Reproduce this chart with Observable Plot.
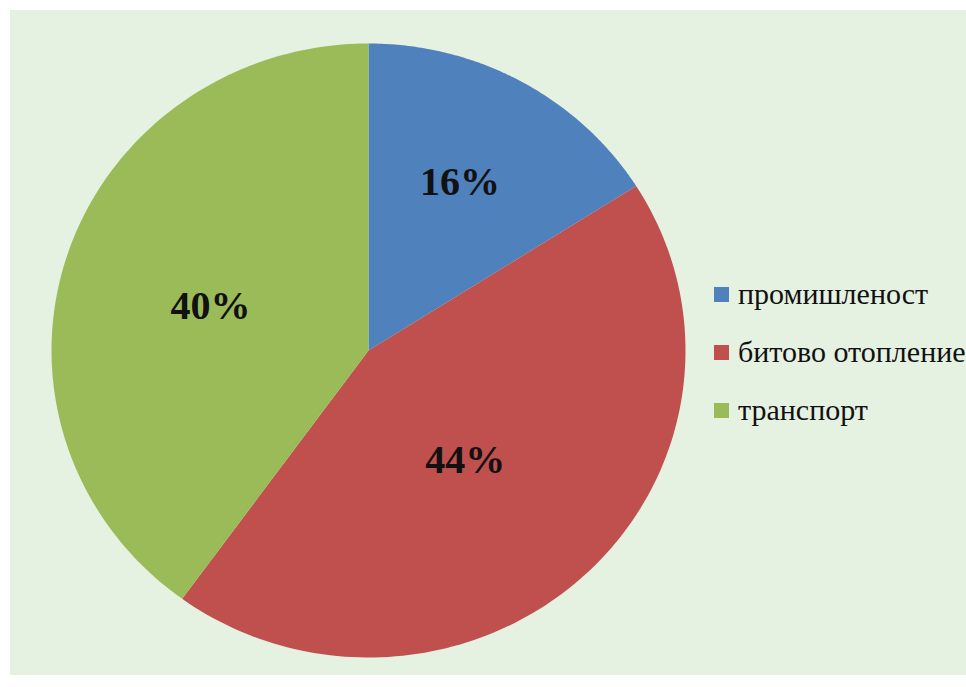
<!DOCTYPE html>
<html>
<head>
<meta charset="utf-8">
<script src="https://cdn.jsdelivr.net/npm/d3@7"></script>
<script src="https://cdn.jsdelivr.net/npm/@observablehq/plot@0.6"></script>
<style>
  html, body { margin: 0; padding: 0; background: #ffffff; }
  #wrap { position: relative; width: 966px; height: 687px; overflow: hidden; }
  #bg { position: absolute; left: 10px; top: 10px; width: 956px; height: 665px; background: #e5f2e2; }
  #chart { position: absolute; left: 0; top: 0; }
  #legend { position: absolute; left: 714px; top: 265px; font-family: "Liberation Serif", "Times New Roman", Times, "DejaVu Serif", serif; font-size: 30px; color: #111; }
  .row { display: flex; align-items: center; height: 58px; white-space: nowrap; }
  .sw { width: 15px; height: 15px; margin-right: 9px; }
</style>
</head>
<body>
<div id="wrap">
  <div id="bg"></div>
  <div id="chart"></div>
  <div id="legend"></div>
</div>
<script>
const categories = ["промишленост", "битово отопление", "транспорт"];
const values = [16, 44, 40];
const colors = ["#4f81bd", "#c0504d", "#9bbb59"];

const rows = categories.map((c, i) => ({cat: c, value: values[i]}));
const arcs = d3.pie().sort(null).value(d => d.value)(rows);

// polygon points per slice (center + arc)
const pts = [];
const labels = [];
for (const a of arcs) {
  const n = 120;
  pts.push({cat: a.data.cat, x: 0, y: 0});
  for (let k = 0; k <= n; k++) {
    const t = a.startAngle + (a.endAngle - a.startAngle) * k / n;
    pts.push({cat: a.data.cat, x: Math.sin(t), y: Math.cos(t)});
  }
  const half = (a.endAngle - a.startAngle) / 2;
  const mid = a.startAngle + half;
  const r = 2 * Math.sin(half) / (3 * half);
  labels.push({x: r * Math.sin(mid), y: r * Math.cos(mid), text: a.data.value + "%"});
}

const serif = "'Liberation Serif', 'Times New Roman', Times, 'DejaVu Serif', serif";

const chart = Plot.plot({
  width: 966,
  height: 687,
  margin: 0,
  style: {background: "transparent", overflow: "visible"},
  x: {domain: [-1, 1], range: [51, 685], axis: null},
  y: {domain: [-1, 1], range: [657, 43], axis: null},
  color: {domain: categories, range: colors},
  marks: [
    Plot.line(pts, {x: "x", y: "y", z: "cat", fill: "cat", stroke: null, curve: "linear-closed"}),
    Plot.text(labels, {x: "x", y: "y", text: "text", fontSize: 40, fontWeight: "bold",
      fontFamily: serif, fill: "#111", dx: -6, dy: 4})
  ]
});
document.getElementById("chart").appendChild(chart);

const leg = document.getElementById("legend");
categories.forEach((c, i) => {
  const row = document.createElement("div");
  row.className = "row";
  const sw = document.createElement("span");
  sw.className = "sw";
  sw.style.background = colors[i];
  const tx = document.createElement("span");
  tx.textContent = c;
  row.appendChild(sw);
  row.appendChild(tx);
  leg.appendChild(row);
});
</script>
</body>
</html>
